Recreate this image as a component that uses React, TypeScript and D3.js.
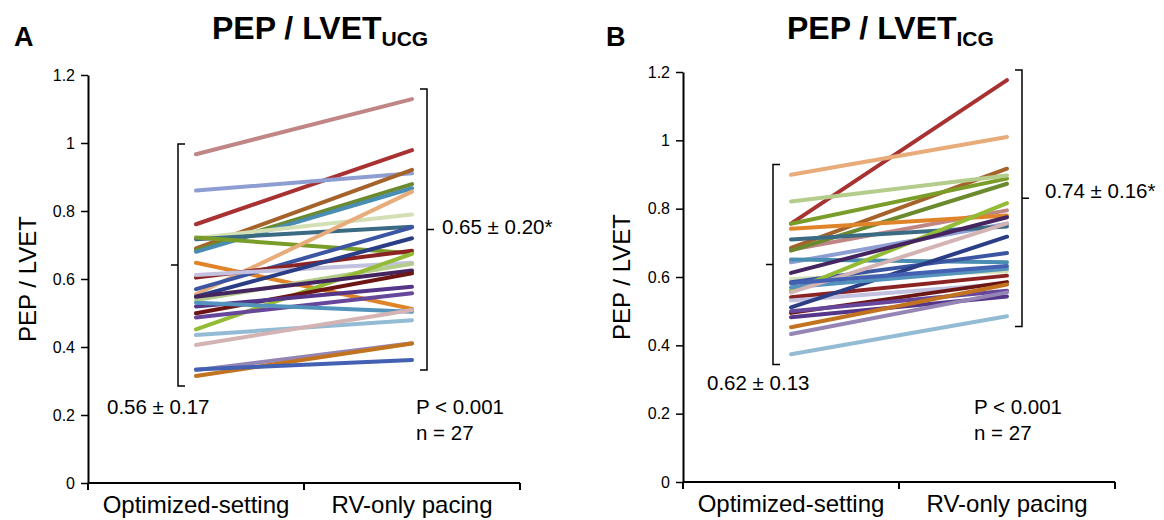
import React, { useEffect, useRef } from 'react';
import * as d3 from 'd3';

// category labels and y ticks shared by both panels
const categories = ['Optimized-setting', 'RV-only pacing'];
const yTicks = [0, 0.2, 0.4, 0.6, 0.8, 1, 1.2];

// one colour per patient (same order in both panels)
const lineColors = [
  '#c08585', '#a83232', '#8f9ed2', '#a5622a', '#6b8a2e', '#4a8db3', '#d3dfb5',
  '#3b6a83', '#7a9d2a', '#e0842a', '#e8ab7a', '#3b55a3', '#8c2323', '#c2c2e0',
  '#2b3d85', '#b5cd8c', '#93bb35', '#45255f', '#6b1515', '#55368a', '#66479b',
  '#5493bc', '#93bbd3', '#d3b3b3', '#9585b5', '#c2731f', '#4360b2',
];

// panel A: PEP/LVET by UCG
const ucgOptimized = [
  0.967, 0.761, 0.86, 0.69, 0.685, 0.68, 0.72, 0.717, 0.722, 0.648, 0.555, 0.57, 0.604, 0.612,
  0.548, 0.538, 0.452, 0.548, 0.499, 0.519, 0.487, 0.53, 0.435, 0.406, 0.332, 0.315, 0.334,
];
const ucgRvOnly = [
  1.129, 0.979, 0.911, 0.921, 0.879, 0.867, 0.79, 0.754, 0.676, 0.512, 0.857, 0.752, 0.683, 0.648,
  0.72, 0.645, 0.674, 0.625, 0.617, 0.577, 0.558, 0.504, 0.479, 0.509, 0.411, 0.41, 0.362,
];

// panel B: PEP/LVET by ICG
const icgOptimized = [
  0.68, 0.756, 0.643, 0.685, 0.677, 0.651, 0.594, 0.71, 0.756, 0.741, 0.899, 0.585, 0.541, 0.531,
  0.511, 0.821, 0.56, 0.612, 0.495, 0.482, 0.5, 0.57, 0.374, 0.555, 0.433, 0.453, 0.582,
];
const icgRvOnly = [
  0.795, 1.176, 0.756, 0.917, 0.873, 0.643, 0.617, 0.748, 0.888, 0.78, 1.01, 0.67, 0.604, 0.58,
  0.718, 0.897, 0.816, 0.775, 0.585, 0.543, 0.56, 0.624, 0.485, 0.757, 0.555, 0.578, 0.632,
];

const FONT = '"Liberation Sans", Arial, sans-serif';

const panels = [
  {
    letter: 'A', sub: 'UCG', pre: ucgOptimized, post: ucgRvOnly,
    leftText: '0.56 ± 0.17', rightText: '0.65 ± 0.20*',
    x0: 88, x1: 520, yBottom: 483, yTop: 75, letterX: 14, titleX: 212,
    leftTextPos: [107, 414], rightTextPos: [442, 234], pPos: [416, 414], yTitleX: 36,
  },
  {
    letter: 'B', sub: 'ICG', pre: icgOptimized, post: icgRvOnly,
    leftText: '0.62 ± 0.13', rightText: '0.74 ± 0.16*',
    x0: 683, x1: 1115, yBottom: 482, yTop: 72, letterX: 606, titleX: 787,
    leftTextPos: [707, 390], rightTextPos: [1045, 198], pPos: [974, 414], yTitleX: 630,
  },
];

const App = () => {
  const svgRef = useRef(null);

  useEffect(() => {
    const svg = d3.select(svgRef.current);
    svg.selectAll('*').remove();

    panels.forEach(p => {
      const g = svg.append('g');
      const x = d3.scaleBand().domain(categories).range([p.x0, p.x1]);
      const y = d3.scaleLinear().domain([0, 1.2]).range([p.yBottom, p.yTop]);
      const cx = c => x(c) + x.bandwidth() / 2;

      // panel letter + title with subscript
      g.append('text').attr('x', p.letterX).attr('y', 46)
        .attr('font-family', FONT).attr('font-size', 27).attr('font-weight', 'bold')
        .text(p.letter);
      const title = g.append('text').attr('x', p.titleX).attr('y', 39)
        .attr('font-family', FONT).attr('font-size', 32).attr('font-weight', 'bold');
      title.append('tspan').text('PEP / LVET');
      title.append('tspan').attr('font-size', 21).attr('dy', 7).text(p.sub);

      // y axis
      const yAxis = g.append('g')
        .attr('transform', `translate(${p.x0},0)`)
        .call(d3.axisLeft(y).tickValues(yTicks).tickSize(7).tickSizeOuter(0).tickPadding(6)
          .tickFormat(d => String(+(+d).toFixed(1))));
      yAxis.select('.domain').attr('stroke-width', 2);
      yAxis.selectAll('.tick line').attr('stroke-width', 1.5);
      yAxis.selectAll('text').attr('font-family', FONT).attr('font-size', 16).attr('fill', '#000');

      // x axis line with ticks at band edges
      g.append('line')
        .attr('x1', p.x0).attr('x2', p.x1).attr('y1', y(0)).attr('y2', y(0))
        .attr('stroke', '#000').attr('stroke-width', 2);
      const edges = [x(categories[0]), ...categories.map(c => x(c) + x.bandwidth())];
      g.selectAll('.xtick').data(edges).enter().append('line')
        .attr('x1', d => d).attr('x2', d => d)
        .attr('y1', y(0)).attr('y2', y(0) + 7)
        .attr('stroke', '#000').attr('stroke-width', 2);
      g.selectAll('.xlab').data(categories).enter().append('text')
        .attr('x', d => cx(d)).attr('y', y(0) + 30)
        .attr('text-anchor', 'middle')
        .attr('font-family', FONT).attr('font-size', 24)
        .text(d => d);

      // y axis title
      g.append('text')
        .attr('transform', `translate(${p.yTitleX},${(y(0) + y(1.2)) / 2}) rotate(-90)`)
        .attr('text-anchor', 'middle')
        .attr('font-family', FONT).attr('font-size', 24)
        .text('PEP / LVET');

      // patient lines
      const rows = p.pre.map((v, i) => ({ a: v, b: p.post[i], color: lineColors[i] }));
      g.selectAll('.pl').data(rows).enter().append('line')
        .attr('x1', cx(categories[0])).attr('x2', cx(categories[1]))
        .attr('y1', d => y(d.a)).attr('y2', d => y(d.b))
        .attr('stroke', d => d.color).attr('stroke-width', 4)
        .attr('stroke-linecap', 'round');

      // range brackets
      const bracket = (vals, bx, dir) => {
        const top = y(d3.max(vals) + 0.03);
        const bot = y(d3.min(vals) - 0.03);
        const mid = (top + bot) / 2;
        const h = 7 * dir;
        g.append('path')
          .attr('d', `M${bx + h},${top}H${bx}V${bot}H${bx + h}M${bx},${mid}H${bx - h}`)
          .attr('fill', 'none').attr('stroke', '#000').attr('stroke-width', 1.5);
      };
      bracket(p.pre, cx(categories[0]) - 18, 1);
      bracket(p.post, cx(categories[1]) + 15, -1);

      // annotations
      const txt = (pos, s) => g.append('text').attr('x', pos[0]).attr('y', pos[1])
        .attr('font-family', FONT).attr('font-size', 20.5).text(s);
      txt(p.leftTextPos, p.leftText);
      txt(p.rightTextPos, p.rightText);
      txt(p.pPos, 'P < 0.001');
      txt([p.pPos[0], p.pPos[1] + 26], 'n = 27');
    });
  }, []);

  return (
    <svg ref={svgRef} width={1164} height={520}
      style={{ position: 'absolute', left: 0, top: 0, background: '#fff' }} />
  );
};

export default App;
